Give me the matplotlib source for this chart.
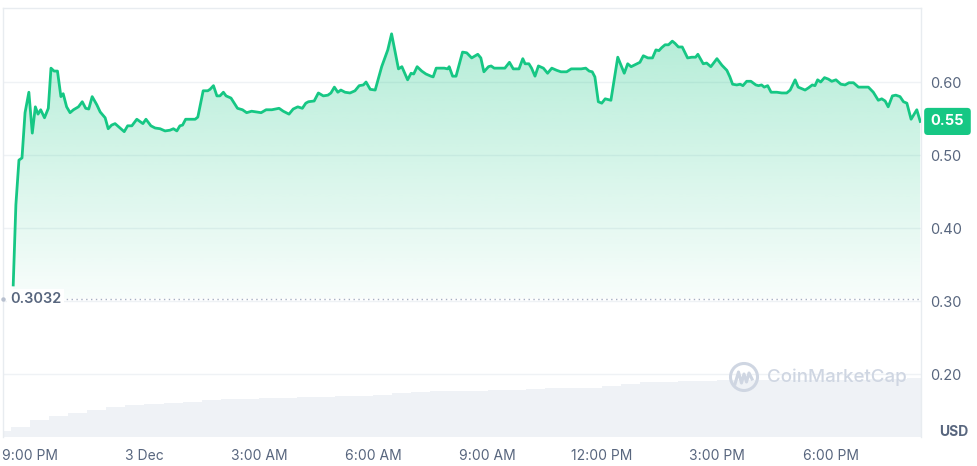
import numpy as np
import matplotlib.pyplot as plt
import matplotlib.transforms as mtransforms
from matplotlib.patches import Polygon, Ellipse

plt.rcParams['font.family'] = ['Inter', 'DejaVu Sans']

# ---- data (hours after 9:00 PM, 2 Dec) ----
price_t = [-0.44, -0.37, -0.29, -0.21, -0.13, -0.03, 0.06, 0.14, 0.21, 0.28,
           0.38, 0.48, 0.55, 0.63, 0.72, 0.81, 0.87, 0.96, 1.05, 1.14,
           1.27, 1.37, 1.46, 1.54, 1.63, 1.75, 1.84, 1.97, 2.05, 2.14,
           2.23, 2.36, 2.47, 2.56, 2.67, 2.80, 2.96, 3.04, 3.17, 3.28,
           3.41, 3.54, 3.67, 3.76, 3.85, 3.93, 4.00, 4.08, 4.20, 4.33,
           4.40, 4.54, 4.66, 4.72, 4.81, 4.90, 4.98, 5.07, 5.14, 5.27,
           5.44, 5.57, 5.68, 5.81, 5.94, 6.06, 6.19, 6.34, 6.53, 6.64,
           6.79, 6.90, 7.02, 7.14, 7.23,
           7.30, 7.45, 7.56, 7.69, 7.81, 7.89, 7.98, 8.07, 8.15, 8.26,
           8.39, 8.52, 8.63, 8.74, 8.81, 8.92, 9.05, 9.22, 9.38, 9.48,
           9.59, 9.66, 9.75, 9.90, 9.99, 10.06, 10.15, 10.27, 10.38, 10.51,
           10.57, 10.65, 10.75, 10.86, 10.95, 10.99, 11.08, 11.17,
           11.34, 11.45, 11.58, 11.74, 11.82, 11.90, 12.02, 12.09, 12.17, 12.45,
           12.57, 12.67, 12.82, 12.92, 12.98, 13.08, 13.15, 13.24, 13.33, 13.46,
           13.57, 13.68, 13.81, 13.92, 14.07, 14.19, 14.45, 14.57, 14.66, 14.74,
           14.81, 14.90, 14.99, 15.08, 15.23,
           15.41, 15.58, 15.67, 15.76, 15.91, 15.99, 16.08, 16.20, 16.32, 16.41,
           16.49, 16.56, 16.65, 16.74, 16.84, 16.91, 17.00, 17.10, 17.24, 17.35,
           17.45, 17.51, 17.65, 17.74, 17.85, 18.01, 18.14, 18.27, 18.35, 18.42,
           18.53, 18.62, 18.69, 18.79, 18.90, 19.03,
           19.10, 19.18, 19.25, 19.34, 19.43, 19.58, 19.71, 19.84, 19.93, 20.06,
           20.14, 20.32, 20.41, 20.51, 20.58, 20.65, 20.73, 20.83, 20.93, 21.02,
           21.13, 21.26, 21.37, 21.47, 21.59, 21.72, 21.81, 21.98, 22.11, 22.24,
           22.33, 22.42, 22.50, 22.61, 22.70, 22.81, 22.90, 22.99, 23.10, 23.25,
           23.34]

price = [0.322, 0.432, 0.493, 0.496, 0.558, 0.586, 0.530, 0.566, 0.556, 0.562,
         0.551, 0.564, 0.619, 0.615, 0.615, 0.580, 0.584, 0.566, 0.558, 0.562,
         0.566, 0.573, 0.564, 0.563, 0.580, 0.569, 0.559, 0.551, 0.536, 0.541,
         0.543, 0.537, 0.532, 0.540, 0.540, 0.549, 0.543, 0.549, 0.540, 0.537,
         0.536, 0.533, 0.534, 0.536, 0.533, 0.540, 0.541, 0.549, 0.549, 0.549,
         0.552, 0.588, 0.588, 0.590, 0.595, 0.581, 0.581, 0.586, 0.581, 0.578,
         0.564, 0.562, 0.558, 0.560, 0.559, 0.558, 0.562, 0.562, 0.564, 0.560,
         0.556, 0.563, 0.566, 0.564, 0.571,
         0.573, 0.574, 0.585, 0.581, 0.582, 0.585, 0.593, 0.586, 0.589, 0.586,
         0.585, 0.588, 0.595, 0.596, 0.600, 0.590, 0.589, 0.621, 0.644, 0.666,
         0.637, 0.618, 0.621, 0.603, 0.612, 0.611, 0.621, 0.615, 0.611, 0.608,
         0.607, 0.619, 0.619, 0.619, 0.618, 0.621, 0.608, 0.608,
         0.641, 0.640, 0.633, 0.638, 0.633, 0.614, 0.621, 0.622, 0.619, 0.619,
         0.627, 0.618, 0.618, 0.632, 0.625, 0.625, 0.619, 0.608, 0.622, 0.619,
         0.612, 0.619, 0.616, 0.614, 0.614, 0.618, 0.618, 0.619, 0.615, 0.614,
         0.607, 0.573, 0.571, 0.577, 0.575,
         0.634, 0.612, 0.625, 0.621, 0.625, 0.627, 0.636, 0.633, 0.633, 0.644,
         0.643, 0.647, 0.651, 0.651, 0.656, 0.653, 0.648, 0.648, 0.633, 0.634,
         0.634, 0.638, 0.625, 0.626, 0.621, 0.632, 0.623, 0.616, 0.607, 0.597,
         0.596, 0.597, 0.595, 0.601, 0.601, 0.596,
         0.595, 0.596, 0.593, 0.595, 0.586, 0.586, 0.585, 0.585, 0.589, 0.603,
         0.593, 0.589, 0.592, 0.596, 0.595, 0.603, 0.600, 0.606, 0.604, 0.601,
         0.603, 0.597, 0.596, 0.599, 0.599, 0.593, 0.593, 0.593, 0.586, 0.575,
         0.577, 0.574, 0.566, 0.581, 0.582, 0.580, 0.573, 0.571, 0.549, 0.562,
         0.546]

low_price = 0.3032

# volume (arbitrary units), one reading per half hour
vol_t = [-0.75, -0.25, 0.25, 0.75, 1.25, 1.75, 2.25, 2.75, 3.25, 3.75,
         4.25, 4.75, 5.25, 5.75, 6.25, 6.75, 7.25, 7.75, 8.25, 8.75,
         9.25, 9.75, 10.25, 10.75, 11.25, 11.75, 12.25, 12.75, 13.25, 13.75,
         14.25, 14.75, 15.25, 15.75, 16.25, 16.75, 17.25, 17.75, 18.25, 18.75,
         19.25, 19.75, 20.25, 20.75, 21.25, 21.75, 22.25, 22.75, 23.25]
vol = [0.6, 1.0, 1.7, 2.1, 2.4, 2.7, 3.0, 3.2, 3.3, 3.4,
       3.5, 3.7, 3.8, 3.85, 3.9, 3.95, 4.0, 4.0, 4.1, 4.15,
       4.25, 4.4, 4.5, 4.6, 4.6, 4.65, 4.7, 4.75, 4.85, 4.9,
       4.9, 4.95, 5.1, 5.3, 5.5, 5.55, 5.6, 5.65, 5.7, 5.7,
       5.7, 5.7, 5.7, 5.7, 5.75, 5.75, 5.8, 5.85, 5.9]

tick_pos = [0, 3, 6, 9, 12, 15, 18, 21]
tick_labels = ['9:00 PM', '3 Dec', '3:00 AM', '6:00 AM', '9:00 AM',
               '12:00 PM', '3:00 PM', '6:00 PM']
y_ticks = [0.20, 0.30, 0.40, 0.50, 0.60]

green = '#16c784'
grey_txt = '#58667e'
grid_c = '#eff2f5'

fig = plt.figure(figsize=(9.78, 4.66), dpi=100)
rect = [3 / 978, 29 / 466, 918 / 978, 429 / 466]
ax_vol = fig.add_axes(rect)
ax = fig.add_axes(rect, sharex=ax_vol)
ax.patch.set_visible(False)

# volume bars
ax_vol.bar(vol_t, vol, width=0.5, color='#eff2f6', linewidth=0)
ax_vol.set_ylim(0, 42.9)
ax_vol.axis('off')

ax.set_xlim(-0.708, 23.36)
ax.set_ylim(0.1137, 0.7014)

for y in y_ticks:
    ax.axhline(y, color=grid_c, lw=1, zorder=0)

# gradient fill under the line
verts = list(zip(price_t, price)) + [(price_t[-1], low_price), (price_t[0], low_price)]
clip = Polygon(verts, closed=True, facecolor='none', edgecolor='none')
ax.add_patch(clip)
img = np.zeros((256, 1, 4))
img[..., 0] = 22 / 255
img[..., 1] = 199 / 255
img[..., 2] = 132 / 255
img[..., 3] = np.linspace(0.32, 0.03, 256)[:, None]
im = ax.imshow(img, extent=[price_t[0], price_t[-1], low_price, max(price)],
               aspect='auto', origin='upper', zorder=1, interpolation='bilinear')
im.set_clip_path(clip)

ax.plot(price_t, price, color=green, lw=2, zorder=3, solid_joinstyle='round')

# low price marker line
ax.axhline(low_price, color='#a6b0c3', lw=1, ls=(0, (1, 2.5)), zorder=2)
ax.plot([-0.708], [low_price], 'o', ms=2.2, color='#b8c0cf', clip_on=False, zorder=4)
ax.text(0.0075, low_price, f'{low_price:.4f}', transform=ax.get_yaxis_transform(),
        ha='left', va='center', fontsize=10.5, color=grey_txt, fontweight='semibold',
        bbox=dict(boxstyle='square,pad=0.2', fc='white', ec='none'), zorder=5)

# axes styling
ax.set_xticks(tick_pos)
ax.set_xticklabels(tick_labels)
ax.yaxis.tick_right()
ax.set_yticks(y_ticks)
ax.set_yticklabels([f'{y:.2f}' for y in y_ticks])
ax.tick_params(axis='x', length=0, pad=8.5, labelsize=10, colors=grey_txt)
ax.tick_params(axis='y', length=0, pad=6.5, labelsize=10.5, colors=grey_txt)
for s in ['top', 'left', 'right']:
    ax.spines[s].set_color('#e8ecf0')
    ax.spines[s].set_linewidth(1)
ax.spines['bottom'].set_visible(False)

# current price badge
off = mtransforms.offset_copy(ax.get_yaxis_transform(), fig=fig, x=7, y=0, units='points')
ax.text(1.0, price[-1], f'{price[-1]:.2f}', transform=off, ha='left', va='center',
        fontsize=10.5, color='white', fontweight='bold',
        bbox=dict(boxstyle='round,pad=0.45,rounding_size=0.25', fc=green, ec='none'))

fig.text(954 / 978, 1 - 432 / 466, 'USD', ha='center', va='center',
         fontsize=10, fontweight='bold', color=grey_txt)

# watermark
wm = '#cfd6e2'
fig.add_artist(Ellipse((744 / 978, 1 - 377 / 466), 27 / 978, 27 / 466,
                       transform=fig.transFigure, fill=False, ec=wm, lw=2.2))
mx = np.array([735, 738.5, 741.5, 744, 746.5, 749, 752]) / 978
my = 1 - np.array([384, 372, 383, 374, 382, 373, 379]) / 466
fig.add_artist(plt.Line2D(mx, my, transform=fig.transFigure, color=wm, lw=2.2))
fig.text(767 / 978, 1 - 377 / 466, 'CoinMarketCap', ha='left', va='center',
         fontsize=13.5, color=wm, fontweight='medium')

fig.savefig('out.png', dpi=100)
